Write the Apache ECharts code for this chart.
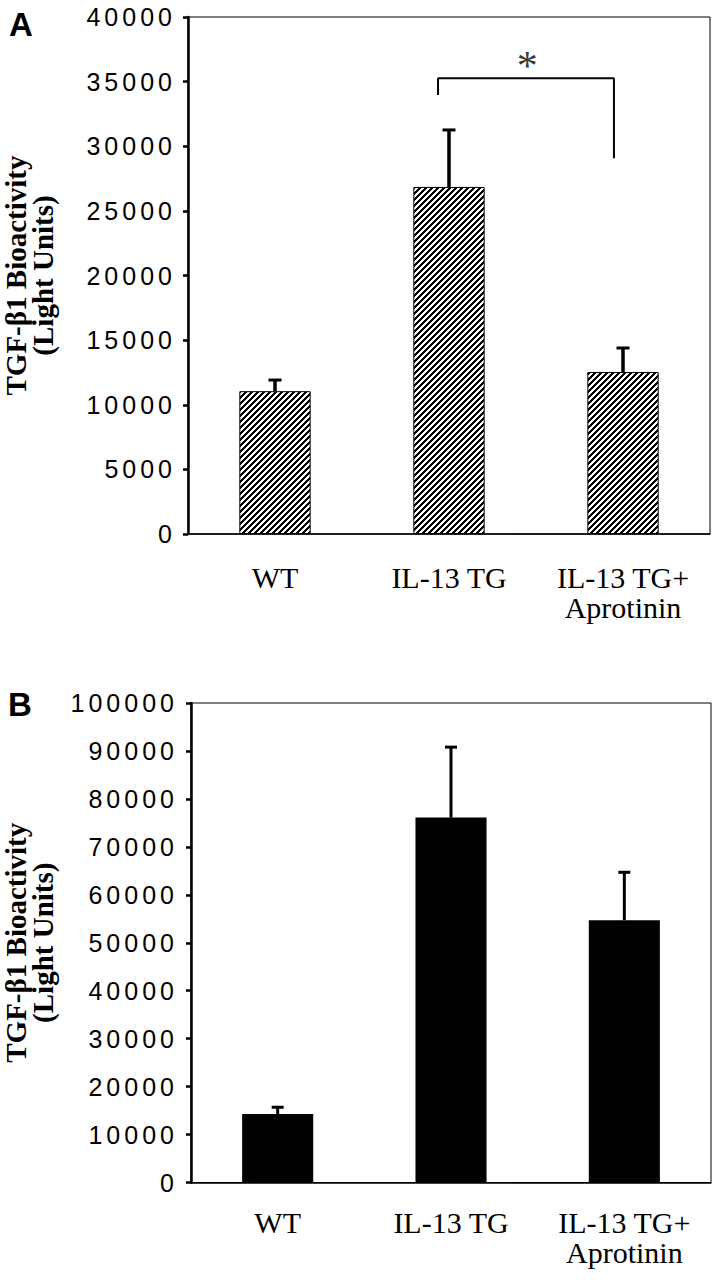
<!DOCTYPE html>
<html><head><meta charset="utf-8">
<script src="https://cdn.jsdelivr.net/npm/echarts@6/dist/echarts.min.js"></script>
<style>
html,body{margin:0;padding:0;background:#fff;}
#c{width:720px;height:1280px;}
#c text[style*="25px"]{letter-spacing:4px;}
#c image{image-rendering:pixelated;}
</style></head><body><div id="c"></div>
<script>
// ---- data ----
const categories = ['WT', 'IL-13 TG', 'IL-13 TG+\nAprotinin'];
const meansA = [11050, 26850, 12530];
const upperA = [11950, 31300, 14430];
const meansB = [14300, 76100, 54700];
const upperB = [15800, 90900, 64800];
const yMaxA = 40000, yStepA = 5000;
const yMaxB = 100000, yStepB = 10000;
const yTitle = 'TGF-\u03b21 Bioactivity\n(Light Units)';
// significance bracket in panel A: [x (category units, 0..3), y]
const bracketA = [[1.437, 33970], [1.437, 35260], [2.448, 35260], [2.448, 29070]];
const starA = [[1.95, 36200]];

// ---- hatch pattern (crisp "/" stripes) ----
const tile = document.createElement('canvas');
tile.width = 6; tile.height = 6;
const tc = tile.getContext('2d');
const img = tc.createImageData(6, 6);
for (let y = 0; y < 6; y++) {
  for (let x = 0; x < 6; x++) {
    const k = (y * 6 + x) * 4;
    const v = ((x + y) % 6) < 3 ? 0 : 255;
    img.data[k] = v; img.data[k + 1] = v; img.data[k + 2] = v; img.data[k + 3] = 255;
  }
}
tc.putImageData(img, 0, 0);
const hatch = { image: tile, repeat: 'repeat', imageWidth: 6, imageHeight: 6 };

function errSeries(means, upper, xi, yi, capW, lw) {
  return {
    type: 'custom', xAxisIndex: xi, yAxisIndex: yi, z: 5, silent: true,
    encode: { x: 0, y: [1, 2] },
    data: means.map(function (m, i) { return [i, m, upper[i]]; }),
    renderItem: function (params, api) {
      const lo = api.coord([api.value(0), api.value(1)]);
      const hi = api.coord([api.value(0), api.value(2)]);
      return {
        type: 'group', children: [
          { type: 'line', shape: { x1: lo[0], y1: lo[1], x2: hi[0], y2: hi[1] + 1 }, style: { stroke: '#000', lineWidth: lw } },
          { type: 'rect', shape: { x: hi[0] - capW / 2, y: hi[1] - 1, width: capW, height: 3 }, style: { fill: '#000' } }
        ]
      };
    }
  };
}

const yLabel = { fontFamily: 'Liberation Sans', fontSize: 25, color: '#000', formatter: function (v) { return String(v); } };
const xLabel = { fontFamily: 'Liberation Serif', fontSize: 30, lineHeight: 30, color: '#000', interval: 0 };
const nameStyle = { fontFamily: 'Liberation Serif', fontWeight: 'bold', fontSize: 29, lineHeight: 27, color: '#000' };

const chart = echarts.init(document.getElementById('c'), null, { renderer: 'svg' });
chart.setOption({
  animation: false,
  backgroundColor: '#fff',
  title: [
    { text: 'A', left: 4, top: 3, textStyle: { fontFamily: 'Liberation Sans', fontWeight: 'bold', fontSize: 33, color: '#000' } },
    { text: 'B', left: 3, top: 683, textStyle: { fontFamily: 'Liberation Sans', fontWeight: 'bold', fontSize: 33, color: '#000' } }
  ],
  grid: [
    { left: 188, right: 10, top: 17, bottom: 746, show: true, borderColor: '#000', borderWidth: 1, outerBoundsMode: 'none', containLabel: false },
    { left: 191, right: 9, top: 703, bottom: 97.5, show: true, borderColor: '#000', borderWidth: 1, outerBoundsMode: 'none', containLabel: false }
  ],
  xAxis: [
    { type: 'category', gridIndex: 0, data: categories, axisTick: { show: false },
      axisLine: { lineStyle: { color: '#000', width: 1.5 } }, axisLabel: Object.assign({ margin: 28 }, xLabel) },
    { type: 'value', gridIndex: 0, min: 0, max: 3, show: false },
    { type: 'category', gridIndex: 1, data: categories, axisTick: { show: false },
      axisLine: { lineStyle: { color: '#000', width: 1.5 } }, axisLabel: Object.assign({ margin: 25 }, xLabel) }
  ],
  yAxis: [
    { type: 'value', gridIndex: 0, min: 0, max: yMaxA, interval: yStepA, splitLine: { show: false },
      axisLine: { show: true, lineStyle: { color: '#000', width: 2.5 } },
      axisTick: { show: true, length: 5, lineStyle: { color: '#000', width: 2.5 } },
      axisLabel: Object.assign({ margin: 12 }, yLabel),
      name: yTitle, nameLocation: 'middle', nameRotate: 90, nameGap: 132, nameTextStyle: nameStyle },
    { type: 'value', gridIndex: 1, min: 0, max: yMaxB, interval: yStepB, splitLine: { show: false },
      axisLine: { show: true, lineStyle: { color: '#000', width: 2.5 } },
      axisTick: { show: true, length: 5, lineStyle: { color: '#000', width: 2.5 } },
      axisLabel: Object.assign({ margin: 13 }, yLabel),
      name: yTitle, nameLocation: 'middle', nameRotate: 90, nameGap: 135, nameTextStyle: nameStyle }
  ],
  series: [
    { type: 'bar', xAxisIndex: 0, yAxisIndex: 0, data: meansA, barWidth: '41%',
      itemStyle: { color: hatch, borderColor: '#000', borderWidth: 1 } },
    errSeries(meansA, upperA, 0, 0, 13, 3.5),
    { type: 'line', xAxisIndex: 1, yAxisIndex: 0, data: bracketA, symbol: 'none',
      lineStyle: { color: '#000', width: 2 }, silent: true },
    { type: 'scatter', xAxisIndex: 1, yAxisIndex: 0, data: starA, symbolSize: 0, silent: true,
      label: { show: true, position: 'inside', formatter: '*', fontFamily: 'Liberation Serif', fontSize: 42, color: '#000' } },
    { type: 'bar', xAxisIndex: 2, yAxisIndex: 1, data: meansB, barWidth: '41%',
      itemStyle: { color: '#000' } },
    errSeries(meansB, upperB, 2, 1, 12, 3)
  ]
});
</script></body></html>
